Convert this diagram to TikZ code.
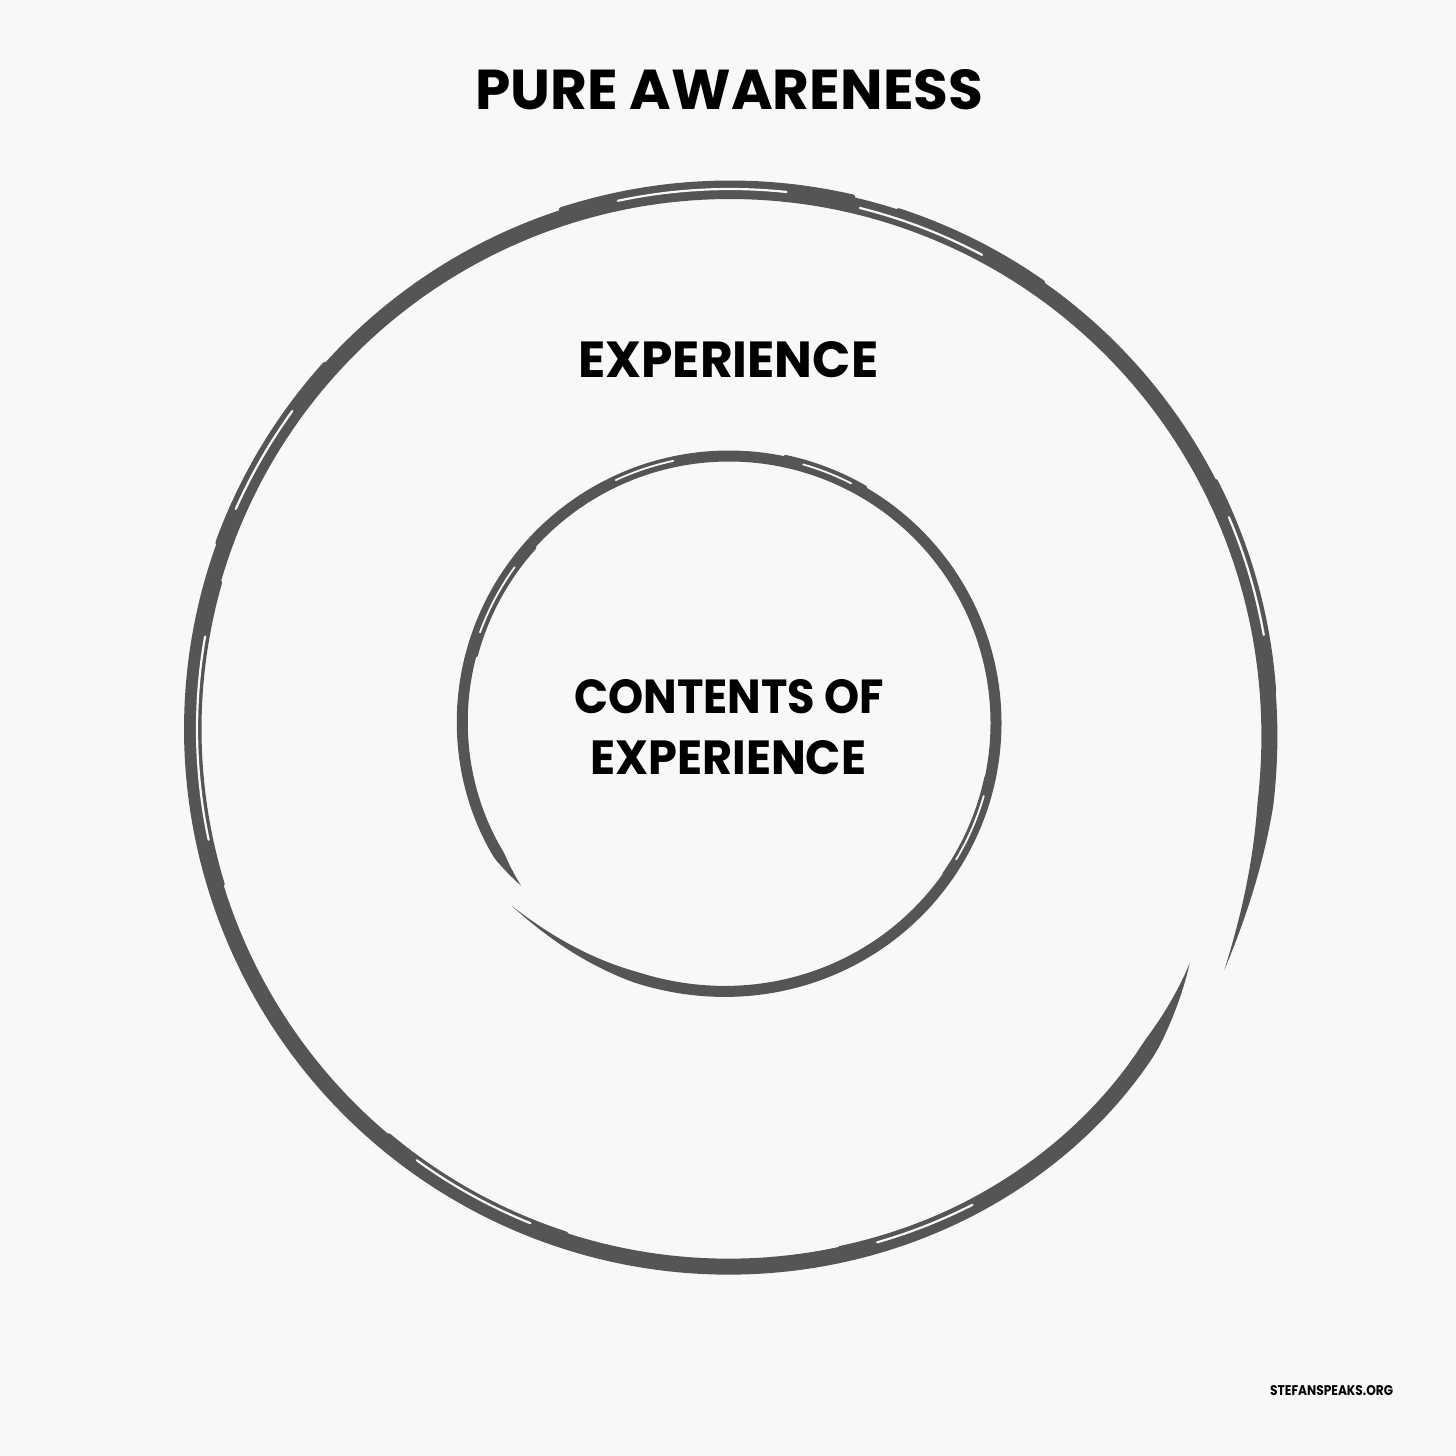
\documentclass[tikz,border=0pt]{standalone}
\usepackage{fontspec}
\setmainfont{Poppins}
\usepackage{graphicx}
\definecolor{bg}{HTML}{F8F8F8}
\definecolor{ink}{HTML}{555555}
\newcommand\skarc[6][]{\draw[#1] plot[domain=#5:#6,samples=60,variable=\t] ({#2+#4*cos(\t)},{#3+#4*sin(\t)});}
\begin{document}
\begin{tikzpicture}[x=1pt,y=-1pt,
  declare function={
    ro(\t)=538-22*exp(-(\t-27)/15)+12*exp(-(386-\t)/12);
    wo(\t)=16*min(1,(\t-27)/10)*min(1,(386-\t)/18);
    ri(\t)=267-3*exp(-(\t-142)/15)+17*exp(-(500-\t)/20);
    wi(\t)=11*min(1,(\t-142)/8)*min(1,(500-\t)/30);
  },
  lbl/.style={inner sep=0pt, anchor=south west, text=black},
  slit/.style={draw=bg, line width=2.2pt, line cap=round},
  thin/.style={draw=ink, line width=5pt, line cap=round}]
\fill[bg] (0,0) rectangle (1456,1456);
\useasboundingbox (0,0) rectangle (1456,1456);

% outer sketchy spiral circle
\fill[ink] plot[domain=27:386,samples=300,variable=\t]
   ({730+(ro(\t)+wo(\t)/2)*cos(\t)},{729+(ro(\t)+wo(\t)/2)*sin(\t)})
   -- plot[domain=386:27,samples=300,variable=\t]
   ({730+(ro(\t)-wo(\t)/2)*cos(\t)},{729+(ro(\t)-wo(\t)/2)*sin(\t)}) -- cycle;
% extra sketch strokes on outer circle
\skarc[thin]{730}{729}{546}{252}{283}
\skarc[thin]{730}{729}{545}{288}{305}
\skarc[thin]{730}{729}{531}{163}{196}
\skarc[thin]{730}{729}{531}{108}{130}
\skarc[thin]{730}{729}{545}{333}{356}
\skarc[thin]{730}{729}{531}{60}{78}
\skarc[thin]{730}{729}{545}{200}{222}
\skarc[slit]{730}{729}{540}{258}{276}
\skarc[slit]{730}{729}{537}{284}{298}
\skarc[slit]{730}{729}{533}{168}{190}
\skarc[slit]{730}{729}{533}{112}{126}
\skarc[slit]{730}{729}{542}{337}{350}
\skarc[slit]{730}{729}{534}{63}{74}
\skarc[slit]{730}{729}{541}{204}{216}

% inner sketchy spiral circle
\fill[ink] plot[domain=142:500,samples=300,variable=\t]
   ({729+(ri(\t)+wi(\t)/2)*cos(\t)},{723+(ri(\t)+wi(\t)/2)*sin(\t)})
   -- plot[domain=500:142,samples=300,variable=\t]
   ({729+(ri(\t)-wi(\t)/2)*cos(\t)},{723+(ri(\t)-wi(\t)/2)*sin(\t)}) -- cycle;
\skarc[thin,line width=4pt]{729}{723}{262}{195}{222}
\skarc[thin,line width=4pt]{729}{723}{272}{282}{300}
\skarc[thin,line width=4pt]{729}{723}{263}{12}{35}
\skarc[slit,line width=1.8pt]{729}{723}{265}{200}{216}
\skarc[slit,line width=1.8pt]{729}{723}{269}{286}{297}
\skarc[slit,line width=1.8pt]{729}{723}{265}{16}{31}
\skarc[slit,line width=1.8pt]{729}{723}{268}{245}{258}

% labels
\node[lbl] (title) at (475,110) {\resizebox{508pt}{40pt}{\bfseries PURE AWARENESS}};
\node[lbl] (exp) at (578,378) {\resizebox{300pt}{36pt}{\bfseries EXPERIENCE}};
\node[lbl] (cont1) at (574,714) {\resizebox{310pt}{34pt}{\bfseries CONTENTS OF}};
\node[lbl] (cont2) at (590,775) {\resizebox{276pt}{34pt}{\bfseries EXPERIENCE}};
\node[lbl] (site) at (1270,1396) {\resizebox{123pt}{10pt}{\bfseries STEFANSPEAKS.ORG}};
\end{tikzpicture}
\end{document}
